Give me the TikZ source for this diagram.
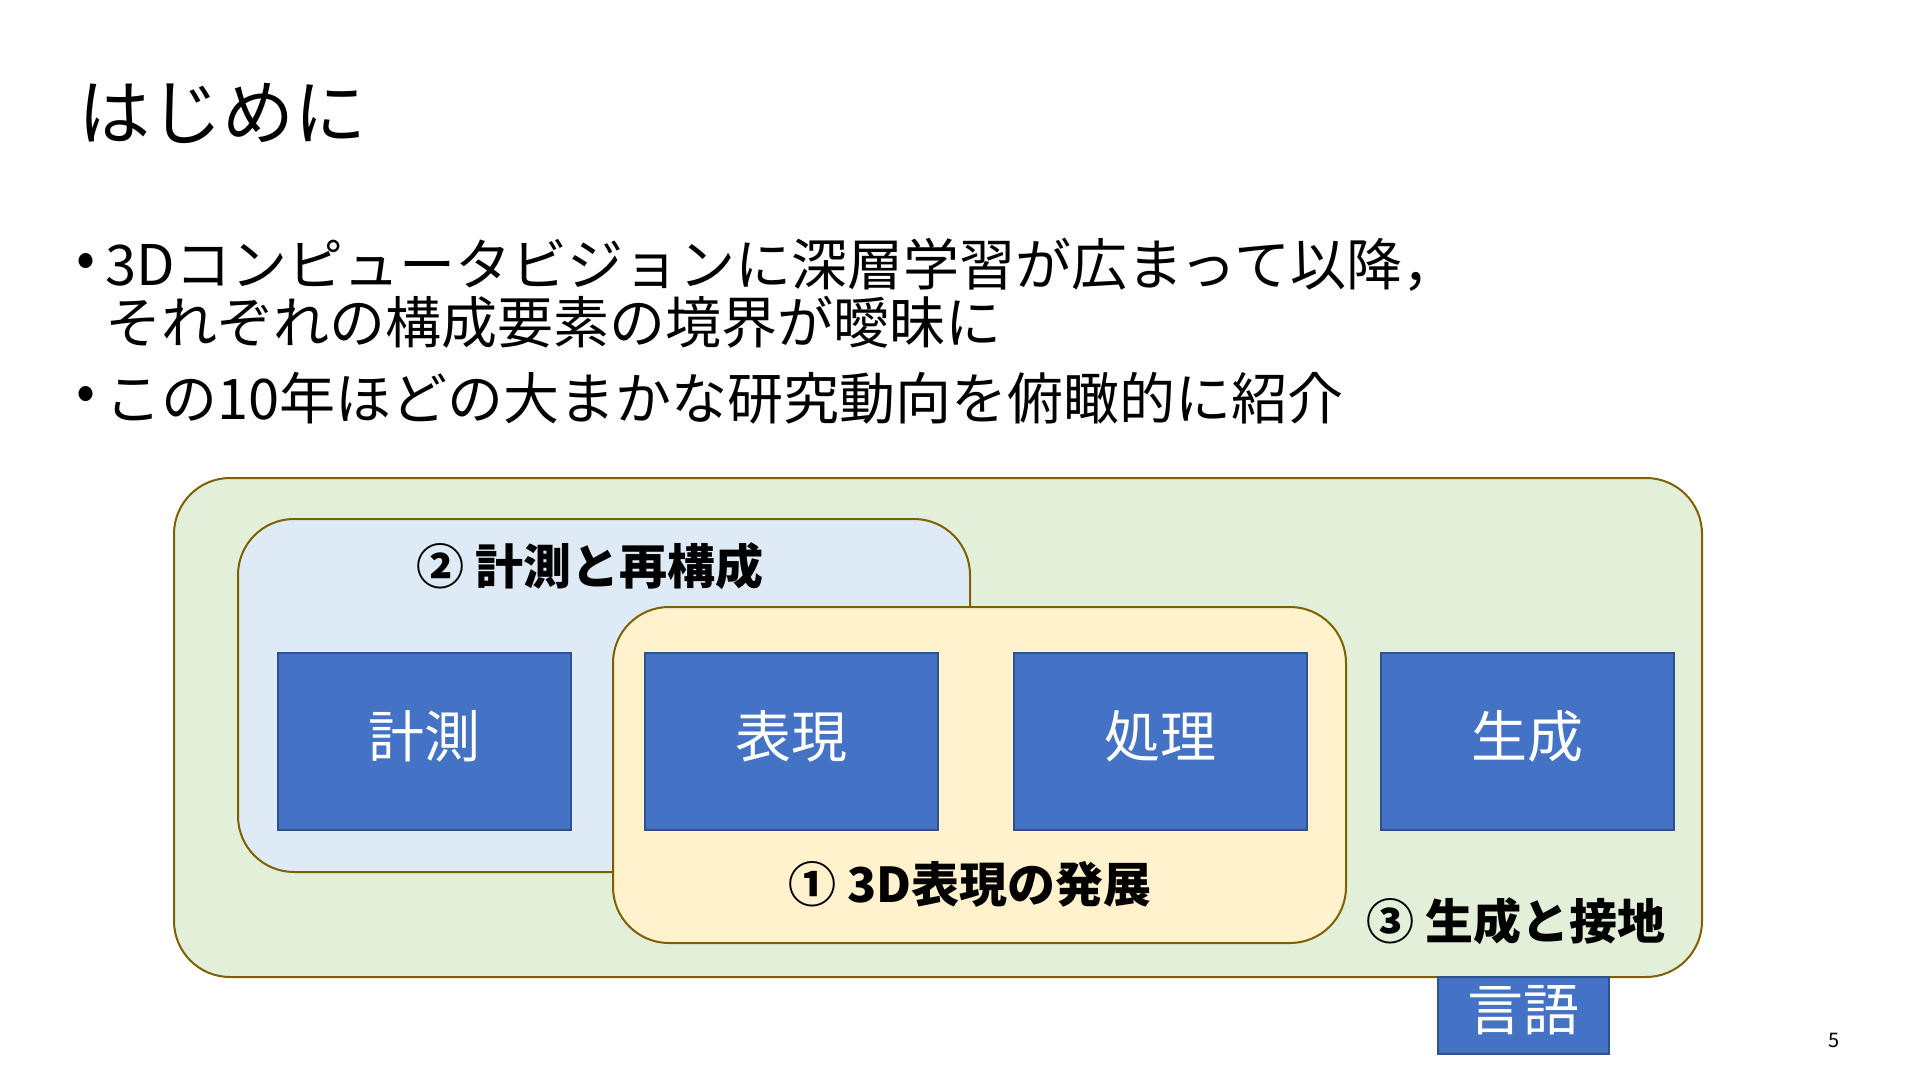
\documentclass[tikz,border=0pt]{standalone}
\usepackage{fontspec}
\newfontfamily\jp{Noto Sans CJK JP}
\usetikzlibrary{positioning}

\definecolor{grpgreen}{HTML}{E2F0D9}
\definecolor{grpblue}{HTML}{DEEBF7}
\definecolor{grpyellow}{HTML}{FFF2CC}
\definecolor{grpline}{HTML}{7F6000}
\definecolor{blkfill}{HTML}{4472C4}
\definecolor{blkline}{HTML}{2F528F}

\newcommand{\up}[1]{\raisebox{2.5pt}[\height][\depth]{#1}}

\begin{document}
\begin{tikzpicture}[x=0.5pt, y=-0.5pt,
	grp/.style={draw=grpline, line width=1pt, rounded corners=28pt, inner sep=0pt},
	blk/.style={draw=blkline, fill=blkfill, line width=1pt, inner sep=0pt,
		minimum width=146.5pt, minimum height=88.5pt, text=white,
		font=\jp\fontsize{28}{34}\selectfont},
	grplabel/.style={font=\jp\bfseries\fontsize{24}{28}\selectfont},
	body/.style={anchor=west, inner sep=0pt, font=\jp\fontsize{28}{33}\selectfont}]

	\useasboundingbox (0,0) rectangle (1920,1080);

	% title and bullets
	\node[anchor=west, inner sep=0pt, font=\jp\fontsize{36}{42}\selectfont] (title) at (78,113) {はじめに};
	\node[body] (dot1) at (76,265) {•};
	\node[body] (l1) at (105,265) {3Dコンピュータビジョンに深層学習が広まって以降，};
	\node[body] (l2) at (105,322) {それぞれの構成要素の境界が曖昧に};
	\node[body] (dot2) at (76,398) {•};
	\node[body] (l3) at (105,398) {この10年ほどの大まかな研究動向を俯瞰的に紹介};

	% groups
	\node[grp, fill=grpgreen, minimum width=764pt, minimum height=249.5pt] (gen) at (938,727.5) {};
	\node[grp, fill=grpblue, minimum width=366pt, minimum height=176.5pt] (rec) at (604,695.5) {};
	\node[grp, fill=grpyellow, minimum width=366.5pt, minimum height=168pt] (rep) at (979.5,775) {};

	\node[grplabel] (reclabel) at (590,566) {② 計測と再構成};
	\node[grplabel] (replabel) at (970,884) {① 3D表現の発展};
	\node[grplabel] (genlabel) at (1516,921) {③ 生成と接地};

	% blocks
	\node[blk] (meas) at (424.5,741.5) {\up{計測}};
	\node[blk] (repr) at (791.5,741.5) {\up{表現}};
	\node[blk] (proc) at (1160.5,741.5) {\up{処理}};
	\node[blk] (gener) at (1527.5,741.5) {\up{生成}};
	\node[blk, minimum width=85.5pt, minimum height=38.5pt] (lang) at (1523.5,1015.5) {\up{言語}};

	\node[font=\jp\fontsize{10}{12}\selectfont] (page) at (1834,1040) {5};

\end{tikzpicture}
\end{document}
